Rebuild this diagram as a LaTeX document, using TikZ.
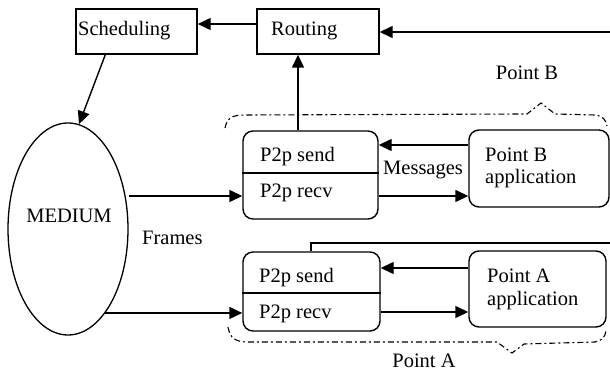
\documentclass[tikz,border=0pt]{standalone}
\usepackage{fontspec}
\setmainfont{Liberation Serif}
\usetikzlibrary{arrows.meta,shapes.geometric,calc}
\begin{document}
\begin{tikzpicture}[x=1pt,y=-1pt,
  font=\fontsize{20.5}{23}\selectfont,
  sqbox/.style={draw, line width=1.4pt, inner sep=0pt},
  rbox/.style={draw, line width=1.4pt, rounded corners=10pt, inner sep=0pt},
  medbox/.style={draw, ellipse, line width=1.3pt, inner sep=0pt},
  conn/.style={line width=1.4pt},
  arr/.style={conn, -{Triangle[length=13pt,width=12pt]}},
  bracepath/.style={line width=1.1pt, dash pattern=on 6pt off 3pt on 2pt off 3pt},
  lbl/.style={inner sep=0pt}]
\useasboundingbox (0,0) rectangle (610,371);

% boxes
\node[sqbox, minimum width=121, minimum height=45] (sched) at (136.5,31.5) {};
\node[lbl, anchor=base west] (schedt) at (78,36) {Scheduling};
\node[sqbox, minimum width=122, minimum height=45] (rout) at (318,31.5) {};
\node[lbl, anchor=base west] (routt) at (271,36) {Routing};

\node[medbox, minimum width=120, minimum height=212] (med) at (68,229) {};
\node[lbl, anchor=base] (medt) at (69,223) {MEDIUM};
\node[lbl, anchor=base west] (frames) at (142,245) {Frames};

% point B
\node[rbox, minimum width=135, minimum height=88] (pbB) at (310.5,175) {};
\coordinate (divB) at (0,173);
\draw[conn] (pbB.west |- divB) -- (pbB.east |- divB);
\node[lbl, anchor=base west] (sendB) at (260,162) {P2p send};
\node[lbl, anchor=base west] (recvB) at (260,198) {P2p recv};
\node[rbox, minimum width=140, minimum height=77] (appB) at (539,168.5) {};
\node[lbl, anchor=base west] (appB1) at (485,162) {Point B};
\node[lbl, anchor=base west] (appB2) at (485,184) {application};
\node[lbl, anchor=base west] (msg) at (383,175) {Messages};
\node[lbl, anchor=base] (ptB) at (527,80) {Point B};

% point A
\node[rbox, minimum width=137, minimum height=79] (pbA) at (311.5,291.5) {};
\coordinate (divA) at (0,293);
\draw[conn] (pbA.west |- divA) -- (pbA.east |- divA);
\node[lbl, anchor=base west] (sendA) at (259,282) {P2p send};
\node[lbl, anchor=base west] (recvA) at (259,318) {P2p recv};
\node[rbox, minimum width=137, minimum height=76] (appA) at (537.5,289) {};
\node[lbl, anchor=base west] (appA1) at (487,282) {Point A};
\node[lbl, anchor=base west] (appA2) at (487,305) {application};
\node[lbl, anchor=base] (ptA) at (424,367) {Point A};

% row coordinates
\coordinate (r24) at (0,24);
\coordinate (rin) at (610,32);
\coordinate (x298) at (298,0);
\coordinate (x311) at (311,0);
\coordinate (aout) at (610,243);
\coordinate (r145) at (0,145);
\coordinate (r196) at (0,196);
\coordinate (r268) at (0,268);
\coordinate (r312) at (0,312);

% connectors
\draw[arr] (rout.west |- r24) -- (sched.east |- r24);
\draw[arr] (rin) -- (rout.east |- rin);
\draw[arr] ($(sched.south west)+(30,0)$) -- (med.84);
\draw[arr] (pbB.north -| x298) -- (rout.south -| x298);
\draw[arr] (med.east |- r196) -- (pbB.west |- r196);
\draw[arr] (med.-66) -- (med.-66 -| pbA.west);
\draw[arr] (appB.west |- r145) -- (pbB.east |- r145);
\draw[arr] (pbB.east |- r196) -- (appB.west |- r196);
\draw[arr] (appA.west |- r268) -- (pbA.east |- r268);
\draw[arr] (pbA.east |- r312) -- (appA.west |- r312);
\draw[conn] (pbA.north -| x311) |- (aout);

% braces
\draw[bracepath] (225,128) .. controls (227,118) and (232,115) .. (245,115) -- (527,114) -- (541,103) -- (555,114) -- (595,115) .. controls (603,116) and (606,120) .. (607,126);
\draw[bracepath] (228,327) .. controls (230,338) and (235,342) .. (248,342) -- (497,342) -- (512,353) -- (524,344) -- (595,342) .. controls (602,341) and (605,337) .. (606,331);
\end{tikzpicture}
\end{document}
